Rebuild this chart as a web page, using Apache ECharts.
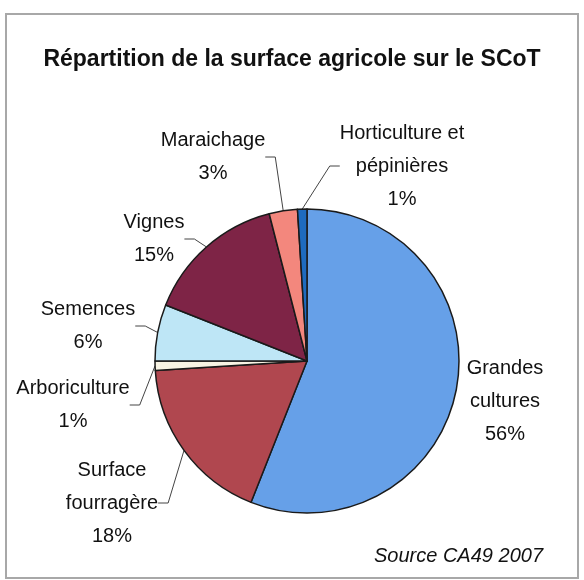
<!DOCTYPE html>
<html>
<head>
<meta charset="utf-8">
<script src="https://cdn.jsdelivr.net/npm/echarts@6/dist/echarts.min.js"></script>
<style>
html,body{margin:0;padding:0;background:#fff;}
#chart{width:584px;height:580px;}
</style>
</head>
<body>
<div id="chart"></div>
<script>
// Data
var categories = ['Grandes\ncultures', 'Surface\nfourragère', 'Arboriculture', 'Semences', 'Vignes', 'Maraichage', 'Horticulture et\npépinières'];
var shares = [56, 18, 1, 6, 15, 3, 1];
var titleText = 'Répartition de la surface agricole sur le SCoT';
var sourceText = 'Source CA49 2007';

// Styles
var sliceColors = ['#66A0E8', '#B0474F', '#F8F4E4', '#BEE6F6', '#7E2446', '#F3877D', '#1E6BBF'];
var labelCenters = [[505, 401], [112, 503], [73, 405], [88, 326], [154, 239], [213, 157], [402, 166]];
var showLeader = [false, true, true, true, true, true, true];

var chart = echarts.init(document.getElementById('chart'), null, {renderer: 'canvas'});
var data = categories.map(function (c, i) {
  return {name: c, value: shares[i], itemStyle: {color: sliceColors[i]}, labelLine: {show: showLeader[i]}};
});
chart.setOption({
  animation: false,
  backgroundColor: '#ffffff',
  title: {
    text: titleText,
    left: 'center',
    top: 43,
    textStyle: {fontFamily: 'Liberation Sans, Arial, sans-serif', fontWeight: 'bold', fontSize: 23, color: '#111'}
  },
  graphic: [
    {type: 'rect', shape: {x: 6, y: 14, width: 572, height: 564}, style: {fill: 'none', stroke: '#a8a8a8', lineWidth: 2}, z: -1},
    {type: 'text', right: 41, top: 546, style: {text: sourceText, font: 'italic 20px "Liberation Sans", Arial, sans-serif', fill: '#111'}}
  ],
  series: [{
    type: 'pie',
    center: [307, 361],
    radius: [0, 152],
    startAngle: 90,
    clockwise: true,
    avoidLabelOverlap: false,
    data: data,
    itemStyle: {borderColor: '#1a1a1a', borderWidth: 1.5},
    label: {
      show: true,
      position: 'outside',
      formatter: '{b}\n{c}%',
      fontFamily: '"Liberation Sans", Arial, sans-serif',
      fontSize: 20,
      lineHeight: 33,
      color: '#111',
      align: 'center'
    },
    labelLine: {show: true, length: 15, length2: 10, lineStyle: {color: '#444', width: 1}},
    labelLayout: function (params) {
      var p = labelCenters[params.dataIndex];
      return {x: p[0], y: p[1], align: 'center', verticalAlign: 'middle'};
    },
    emphasis: {disabled: true}
  }]
});
</script>
</body>
</html>
